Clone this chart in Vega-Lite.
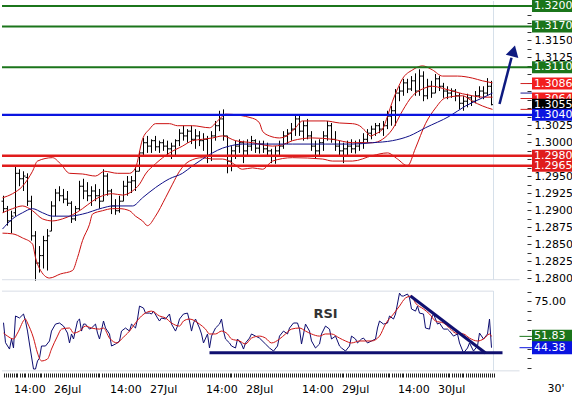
{
"$schema":"https://vega.github.io/schema/vega-lite/v6.json",
"background":"white",
"padding":0,
"spacing":11,
"bounds":"flush",
"config":{"view":{"stroke":null},"font":"DejaVu Sans","axis":{"labelFont":"DejaVu Sans","labelFontSize":11,"labelColor":"#000","grid":false,"domain":false,"tickColor":"#333","labelOverlap":false,"labelFlush":false,"labelBound":false,"zindex":0}},
"datasets":{
"bars":[
{"t":11,"o":1.2913,"h":1.2921,"l":1.2896,"c":1.2902},{"t":12,"o":1.2902,"h":1.2906,"l":1.2877,"c":1.2884},{"t":13,"o":1.2884,"h":1.2899,"l":1.2866,"c":1.2891},{"t":14,"o":1.2896,"h":1.2965,"l":1.2891,"c":1.2954},{"t":15,"o":1.2954,"h":1.296,"l":1.2935,"c":1.2946},{"t":16,"o":1.2946,"h":1.2957,"l":1.2928,"c":1.295},{"t":17,"o":1.2948,"h":1.2954,"l":1.2906,"c":1.2913},{"t":18,"o":1.2913,"h":1.2921,"l":1.2855,"c":1.2862},{"t":19,"o":1.2862,"h":1.2869,"l":1.2796,"c":1.2822},{"t":20,"o":1.2822,"h":1.2847,"l":1.2808,"c":1.2833},
{"t":21,"o":1.2833,"h":1.2862,"l":1.2814,"c":1.2855},{"t":22,"o":1.2855,"h":1.2872,"l":1.2811,"c":1.2862},{"t":23,"o":1.2869,"h":1.2913,"l":1.2869,"c":1.2906},{"t":24,"o":1.2906,"h":1.2931,"l":1.2891,"c":1.2925},{"t":25,"o":1.2925,"h":1.2935,"l":1.2913,"c":1.2921},{"t":26,"o":1.2921,"h":1.2931,"l":1.291,"c":1.2916},{"t":27,"o":1.2916,"h":1.2928,"l":1.2906,"c":1.291},{"t":28,"o":1.291,"h":1.2913,"l":1.2881,"c":1.2887},{"t":29,"o":1.2887,"h":1.2906,"l":1.2884,"c":1.2902},{"t":30,"o":1.2902,"h":1.2943,"l":1.2899,"c":1.2935},
{"t":31,"o":1.2935,"h":1.2946,"l":1.2916,"c":1.2928},{"t":32,"o":1.2928,"h":1.2941,"l":1.2913,"c":1.2921},{"t":33,"o":1.2921,"h":1.2935,"l":1.2906,"c":1.2928},{"t":34,"o":1.2928,"h":1.2938,"l":1.2913,"c":1.2921},{"t":35,"o":1.2921,"h":1.2931,"l":1.2902,"c":1.2913},{"t":36,"o":1.2913,"h":1.296,"l":1.2913,"c":1.295},{"t":37,"o":1.295,"h":1.2954,"l":1.2921,"c":1.2928},{"t":38,"o":1.2928,"h":1.2931,"l":1.2894,"c":1.2906},{"t":39,"o":1.2906,"h":1.2916,"l":1.2893,"c":1.2899},{"t":40,"o":1.2899,"h":1.2921,"l":1.2896,"c":1.2913},
{"t":41,"o":1.2913,"h":1.2943,"l":1.2913,"c":1.2935},{"t":42,"o":1.2935,"h":1.295,"l":1.2921,"c":1.2941},{"t":43,"o":1.2941,"h":1.295,"l":1.2925,"c":1.2943},{"t":44,"o":1.2943,"h":1.2965,"l":1.2928,"c":1.2957},{"t":45,"o":1.2957,"h":1.2987,"l":1.2957,"c":1.2984},{"t":46,"o":1.2984,"h":1.3006,"l":1.298,"c":1.2999},{"t":47,"o":1.2999,"h":1.3009,"l":1.2984,"c":1.2994},{"t":48,"o":1.2994,"h":1.3004,"l":1.2984,"c":1.3002},{"t":49,"o":1.3002,"h":1.3009,"l":1.2987,"c":1.2993},{"t":50,"o":1.2993,"h":1.3002,"l":1.2984,"c":1.2999},
{"t":51,"o":1.2999,"h":1.3004,"l":1.2987,"c":1.2994},{"t":52,"o":1.2994,"h":1.3002,"l":1.298,"c":1.299},{"t":53,"o":1.299,"h":1.2999,"l":1.2975,"c":1.2994},{"t":54,"o":1.2994,"h":1.3004,"l":1.298,"c":1.3002},{"t":55,"o":1.3002,"h":1.3019,"l":1.2994,"c":1.3013},{"t":56,"o":1.3013,"h":1.3024,"l":1.3002,"c":1.3009},{"t":57,"o":1.3009,"h":1.3019,"l":1.2999,"c":1.3016},{"t":58,"o":1.3016,"h":1.3024,"l":1.2997,"c":1.3004},{"t":59,"o":1.3004,"h":1.3019,"l":1.299,"c":1.3009},{"t":60,"o":1.3009,"h":1.3016,"l":1.2994,"c":1.3002},
{"t":61,"o":1.3002,"h":1.3013,"l":1.2987,"c":1.3004},{"t":62,"o":1.3004,"h":1.3009,"l":1.2969,"c":1.298},{"t":63,"o":1.298,"h":1.3016,"l":1.2972,"c":1.3009},{"t":64,"o":1.3009,"h":1.3031,"l":1.3002,"c":1.3024},{"t":65,"o":1.3024,"h":1.3046,"l":1.3016,"c":1.3034},{"t":66,"o":1.3034,"h":1.3048,"l":1.3002,"c":1.3009},{"t":67,"o":1.3009,"h":1.3009,"l":1.2954,"c":1.2972},{"t":68,"o":1.2972,"h":1.2994,"l":1.2957,"c":1.2987},{"t":69,"o":1.2987,"h":1.3002,"l":1.2975,"c":1.2994},{"t":70,"o":1.2994,"h":1.3004,"l":1.2984,"c":1.2999},
{"t":71,"o":1.2999,"h":1.3002,"l":1.2969,"c":1.2987},{"t":72,"o":1.2987,"h":1.3004,"l":1.298,"c":1.2994},{"t":73,"o":1.2994,"h":1.3009,"l":1.2987,"c":1.3002},{"t":74,"o":1.3002,"h":1.3004,"l":1.2984,"c":1.2991},{"t":75,"o":1.2991,"h":1.3002,"l":1.2983,"c":1.2997},{"t":76,"o":1.2997,"h":1.3002,"l":1.2984,"c":1.299},{"t":77,"o":1.299,"h":1.2999,"l":1.298,"c":1.2987},{"t":78,"o":1.2987,"h":1.299,"l":1.2969,"c":1.298},{"t":79,"o":1.298,"h":1.2994,"l":1.2968,"c":1.2987},{"t":80,"o":1.2987,"h":1.3002,"l":1.298,"c":1.2994},
{"t":81,"o":1.2994,"h":1.3016,"l":1.299,"c":1.3009},{"t":82,"o":1.3009,"h":1.3019,"l":1.2997,"c":1.3013},{"t":83,"o":1.3013,"h":1.3028,"l":1.3002,"c":1.3019},{"t":84,"o":1.3019,"h":1.3041,"l":1.3009,"c":1.3034},{"t":85,"o":1.3034,"h":1.3041,"l":1.3009,"c":1.3016},{"t":86,"o":1.3016,"h":1.3031,"l":1.3002,"c":1.3024},{"t":87,"o":1.3024,"h":1.3034,"l":1.3004,"c":1.3009},{"t":88,"o":1.3009,"h":1.3016,"l":1.2987,"c":1.2994},{"t":89,"o":1.2994,"h":1.3002,"l":1.2975,"c":1.2987},{"t":90,"o":1.2987,"h":1.3004,"l":1.298,"c":1.2999},
{"t":91,"o":1.2999,"h":1.3016,"l":1.2987,"c":1.3009},{"t":92,"o":1.3009,"h":1.3031,"l":1.3002,"c":1.3024},{"t":93,"o":1.3024,"h":1.3028,"l":1.2999,"c":1.3004},{"t":94,"o":1.3004,"h":1.3016,"l":1.2987,"c":1.2994},{"t":95,"o":1.2994,"h":1.3002,"l":1.298,"c":1.2987},{"t":96,"o":1.2987,"h":1.2999,"l":1.2969,"c":1.299},{"t":97,"o":1.299,"h":1.3002,"l":1.298,"c":1.2994},{"t":98,"o":1.2994,"h":1.3004,"l":1.2984,"c":1.299},{"t":99,"o":1.299,"h":1.3002,"l":1.2983,"c":1.2994},{"t":100,"o":1.2994,"h":1.3004,"l":1.2987,"c":1.2999},
{"t":101,"o":1.2999,"h":1.3013,"l":1.299,"c":1.3004},{"t":102,"o":1.3004,"h":1.3019,"l":1.2999,"c":1.3013},{"t":103,"o":1.3013,"h":1.3024,"l":1.3004,"c":1.3019},{"t":104,"o":1.3019,"h":1.3028,"l":1.3009,"c":1.3024},{"t":105,"o":1.3024,"h":1.3028,"l":1.3013,"c":1.3019},{"t":106,"o":1.3019,"h":1.3031,"l":1.3009,"c":1.3024},{"t":107,"o":1.3024,"h":1.3046,"l":1.3019,"c":1.3038},{"t":108,"o":1.3038,"h":1.3053,"l":1.3024,"c":1.3046},{"t":109,"o":1.3046,"h":1.3078,"l":1.3024,"c":1.3072},{"t":110,"o":1.3072,"h":1.3082,"l":1.306,"c":1.3075},
{"t":111,"o":1.3075,"h":1.3093,"l":1.3068,"c":1.3087},{"t":112,"o":1.3087,"h":1.3093,"l":1.3072,"c":1.3078},{"t":113,"o":1.3078,"h":1.3097,"l":1.3075,"c":1.309},{"t":114,"o":1.309,"h":1.3101,"l":1.3068,"c":1.3075},{"t":115,"o":1.3075,"h":1.3107,"l":1.3068,"c":1.3097},{"t":116,"o":1.3097,"h":1.3104,"l":1.306,"c":1.3068},{"t":117,"o":1.3068,"h":1.3093,"l":1.3063,"c":1.3082},{"t":118,"o":1.3082,"h":1.309,"l":1.3065,"c":1.3072},{"t":119,"o":1.3072,"h":1.31,"l":1.3072,"c":1.3093},{"t":120,"o":1.3093,"h":1.3097,"l":1.3075,"c":1.3082},
{"t":121,"o":1.3082,"h":1.3087,"l":1.3065,"c":1.3075},{"t":122,"o":1.3075,"h":1.3082,"l":1.3063,"c":1.3072},{"t":123,"o":1.3072,"h":1.3079,"l":1.3065,"c":1.3075},{"t":124,"o":1.3075,"h":1.3078,"l":1.306,"c":1.3068},{"t":125,"o":1.3068,"h":1.3072,"l":1.3048,"c":1.3057},{"t":126,"o":1.3057,"h":1.3068,"l":1.3046,"c":1.306},{"t":127,"o":1.306,"h":1.3071,"l":1.3051,"c":1.3065},{"t":128,"o":1.3065,"h":1.3068,"l":1.3053,"c":1.306},{"t":129,"o":1.306,"h":1.3075,"l":1.3057,"c":1.3068},{"t":130,"o":1.3068,"h":1.3082,"l":1.3065,"c":1.3075},
{"t":131,"o":1.3075,"h":1.3082,"l":1.3063,"c":1.3072},{"t":132,"o":1.3072,"h":1.3094,"l":1.3068,"c":1.3082},{"t":133,"o":1.3082,"h":1.309,"l":1.3054,"c":1.3055}
],
"bands":[
{"b":"up","t":10.75,"v":1.2918},{"b":"up","t":13.25,"v":1.2924},{"b":"up","t":15.75,"v":1.2935},{"b":"up","t":18.25,"v":1.2957},{"b":"up","t":19.5,"v":1.2972},{"b":"up","t":23.25,"v":1.2977},{"b":"up","t":25.25,"v":1.2968},{"b":"up","t":27.5,"v":1.2954},{"b":"up","t":30.75,"v":1.2953},{"b":"up","t":34,"v":1.295},{"b":"up","t":36.25,"v":1.2957},{"b":"up","t":39.5,"v":1.2954},{"b":"up","t":42.5,"v":1.2954},{"b":"up","t":44,"v":1.2962},{"b":"up","t":45.75,"v":1.3004},{"b":"up","t":47.5,"v":1.3019},{"b":"up","t":49,"v":1.3027},{"b":"up","t":52.5,"v":1.3027},{"b":"up","t":54.5,"v":1.3024},{"b":"up","t":58.25,"v":1.3024},{"b":"up","t":62.5,"v":1.3021},{"b":"up","t":64.5,"v":1.3031},{"b":"up","t":65.75,"v":1.3038},{"b":"up","t":66.5,"v":1.3041},{"b":"up","t":73.25,"v":1.3035},{"b":"up","t":75,"v":1.3028},{"b":"up","t":75.75,"v":1.3016},{"b":"up","t":77.5,"v":1.3009},{"b":"up","t":80,"v":1.3006},{"b":"up","t":82.5,"v":1.3012},{"b":"up","t":84,"v":1.3021},{"b":"up","t":85.75,"v":1.3031},{"b":"up","t":91.5,"v":1.3031},{"b":"up","t":95,"v":1.3028},{"b":"up","t":98.25,"v":1.3027},{"b":"up","t":100,"v":1.3024},{"b":"up","t":101.5,"v":1.3016},{"b":"up","t":102.75,"v":1.3009},{"b":"up","t":104,"v":1.3012},{"b":"up","t":105.75,"v":1.3019},{"b":"up","t":107,"v":1.3038},{"b":"up","t":108.25,"v":1.306},{"b":"up","t":109.5,"v":1.3078},{"b":"up","t":110.75,"v":1.3093},{"b":"up","t":113.25,"v":1.3106},{"b":"up","t":115.75,"v":1.3112},{"b":"up","t":118.25,"v":1.3106},{"b":"up","t":120.75,"v":1.3097},{"b":"up","t":124.5,"v":1.3097},{"b":"up","t":128.25,"v":1.3094},{"b":"up","t":130.75,"v":1.309},{"b":"up","t":133.25,"v":1.3087},
{"b":"mid","t":10.75,"v":1.2896},{"b":"mid","t":13.25,"v":1.2902},{"b":"mid","t":15.75,"v":1.2906},{"b":"mid","t":18.25,"v":1.2899},{"b":"mid","t":20.75,"v":1.2887},{"b":"mid","t":23.25,"v":1.2884},{"b":"mid","t":25.75,"v":1.2887},{"b":"mid","t":28.25,"v":1.2893},{"b":"mid","t":30.75,"v":1.2902},{"b":"mid","t":33.25,"v":1.2913},{"b":"mid","t":35.75,"v":1.2921},{"b":"mid","t":38.25,"v":1.2924},{"b":"mid","t":40.75,"v":1.2922},{"b":"mid","t":43.25,"v":1.2928},{"b":"mid","t":45,"v":1.2938},{"b":"mid","t":46.5,"v":1.2953},{"b":"mid","t":49,"v":1.2968},{"b":"mid","t":52.5,"v":1.2984},{"b":"mid","t":55.75,"v":1.2994},{"b":"mid","t":58.25,"v":1.3002},{"b":"mid","t":60.75,"v":1.3004},{"b":"mid","t":63.25,"v":1.3006},{"b":"mid","t":65.75,"v":1.3009},{"b":"mid","t":69,"v":1.3002},{"b":"mid","t":73.25,"v":1.2999},{"b":"mid","t":78.25,"v":1.2994},{"b":"mid","t":80.75,"v":1.2996},{"b":"mid","t":83.25,"v":1.3002},{"b":"mid","t":88.25,"v":1.3006},{"b":"mid","t":93.25,"v":1.3004},{"b":"mid","t":98.25,"v":1.2999},{"b":"mid","t":103.25,"v":1.2999},{"b":"mid","t":105.75,"v":1.3004},{"b":"mid","t":108.25,"v":1.3019},{"b":"mid","t":110.75,"v":1.3046},{"b":"mid","t":113.25,"v":1.3068},{"b":"mid","t":115.75,"v":1.3078},{"b":"mid","t":118.25,"v":1.3082},{"b":"mid","t":120.75,"v":1.3079},{"b":"mid","t":123.25,"v":1.3075},{"b":"mid","t":125.75,"v":1.3071},{"b":"mid","t":128.25,"v":1.3068},{"b":"mid","t":130.75,"v":1.3066},{"b":"mid","t":133.25,"v":1.3066},
{"b":"lo","t":10.75,"v":1.2866},{"b":"lo","t":13.25,"v":1.2865},{"b":"lo","t":15.75,"v":1.2859},{"b":"lo","t":18.25,"v":1.285},{"b":"lo","t":19,"v":1.283},{"b":"lo","t":20,"v":1.2814},{"b":"lo","t":22.5,"v":1.28},{"b":"lo","t":25.25,"v":1.2806},{"b":"lo","t":28.25,"v":1.2811},{"b":"lo","t":29.5,"v":1.283},{"b":"lo","t":30.75,"v":1.2855},{"b":"lo","t":32.5,"v":1.2879},{"b":"lo","t":33.25,"v":1.2894},{"b":"lo","t":35.75,"v":1.2899},{"b":"lo","t":38.25,"v":1.2902},{"b":"lo","t":40,"v":1.2902},{"b":"lo","t":42.5,"v":1.2899},{"b":"lo","t":44,"v":1.2891},{"b":"lo","t":45.75,"v":1.2884},{"b":"lo","t":47,"v":1.2877},{"b":"lo","t":49,"v":1.2891},{"b":"lo","t":51.5,"v":1.2918},{"b":"lo","t":53.25,"v":1.2938},{"b":"lo","t":55,"v":1.2957},{"b":"lo","t":57.5,"v":1.2972},{"b":"lo","t":60.75,"v":1.2977},{"b":"lo","t":63.25,"v":1.2975},{"b":"lo","t":65.75,"v":1.2975},{"b":"lo","t":68.25,"v":1.2969},{"b":"lo","t":70.75,"v":1.296},{"b":"lo","t":73.25,"v":1.2962},{"b":"lo","t":75.75,"v":1.296},{"b":"lo","t":78.25,"v":1.2972},{"b":"lo","t":83.25,"v":1.2977},{"b":"lo","t":90.75,"v":1.2975},{"b":"lo","t":93.25,"v":1.2972},{"b":"lo","t":98.25,"v":1.2972},{"b":"lo","t":103.25,"v":1.298},{"b":"lo","t":107,"v":1.2984},{"b":"lo","t":109.5,"v":1.2975},{"b":"lo","t":112,"v":1.2965},{"b":"lo","t":114,"v":1.2991},{"b":"lo","t":116.5,"v":1.3027},{"b":"lo","t":119,"v":1.305},{"b":"lo","t":121.5,"v":1.3065},{"b":"lo","t":125.75,"v":1.3068},{"b":"lo","t":128.25,"v":1.306},{"b":"lo","t":130.75,"v":1.3053},{"b":"lo","t":133.25,"v":1.3048},
{"b":"ma","t":10.75,"v":1.2872},{"b":"ma","t":13.25,"v":1.2887},{"b":"ma","t":15.75,"v":1.2896},{"b":"ma","t":18.25,"v":1.2902},{"b":"ma","t":20.75,"v":1.2896},{"b":"ma","t":23.25,"v":1.2891},{"b":"ma","t":27.5,"v":1.2891},{"b":"ma","t":30.75,"v":1.2894},{"b":"ma","t":35.75,"v":1.2903},{"b":"ma","t":38.25,"v":1.2906},{"b":"ma","t":43.25,"v":1.2906},{"b":"ma","t":45.75,"v":1.2918},{"b":"ma","t":49,"v":1.2933},{"b":"ma","t":52.5,"v":1.2946},{"b":"ma","t":55.75,"v":1.2954},{"b":"ma","t":58.25,"v":1.2965},{"b":"ma","t":60.75,"v":1.2975},{"b":"ma","t":63.25,"v":1.2984},{"b":"ma","t":65.75,"v":1.2991},{"b":"ma","t":67.5,"v":1.2994},{"b":"ma","t":70.75,"v":1.2997},{"b":"ma","t":83.25,"v":1.2997},{"b":"ma","t":91.5,"v":1.2997},{"b":"ma","t":98.25,"v":1.2997},{"b":"ma","t":103.25,"v":1.2999},{"b":"ma","t":108.25,"v":1.3002},{"b":"ma","t":112.5,"v":1.3009},{"b":"ma","t":116.5,"v":1.3021},{"b":"ma","t":122.5,"v":1.3038},{"b":"ma","t":126.5,"v":1.3053},{"b":"ma","t":130.75,"v":1.3065},{"b":"ma","t":133.25,"v":1.3072}
],
"rsi":[
{"t":11,"v":60.8},{"t":11.5,"v":47.7},{"t":12.5,"v":43.5},{"t":13,"v":50.1},{"t":13.5,"v":44.2},{"t":14,"v":65.2},{"t":15,"v":63.9},{"t":16,"v":66.5},{"t":16.5,"v":61.9},{"t":17,"v":55.3},{"t":17.5,"v":46.8},{"t":18.5,"v":30.4},{"t":19,"v":30.4},{"t":19.5,"v":35.7},{"t":20,"v":37.6},{"t":20.5,"v":45.5},{"t":21.5,"v":45.5},{"t":22.5,"v":48.8},{"t":23,"v":55.3},{"t":24,"v":59.9},{"t":25,"v":60.6},{"t":26,"v":58.6},{"t":27,"v":54.0},{"t":27.5,"v":47.5},{"t":28,"v":53.4},{"t":28.5,"v":50.1},{"t":29.5,"v":61.9},{"t":30,"v":63.2},{"t":30.5,"v":55.3},{"t":31,"v":59.9},{"t":31.5,"v":59.9},{"t":32.5,"v":56.6},{"t":33,"v":57.3},{"t":34,"v":59.9},{"t":34.5,"v":54.0},{"t":35,"v":50.1},{"t":36,"v":61.9},{"t":36.5,"v":57.3},{"t":37.5,"v":53.4},{"t":38,"v":45.5},{"t":39,"v":46.8},{"t":40,"v":48.8},{"t":40.5,"v":55.3},{"t":41.5,"v":57.3},{"t":42.5,"v":55.3},{"t":43,"v":59.9},{"t":44,"v":57.3},{"t":44.5,"v":63.2},{"t":45,"v":71.7},{"t":46,"v":70.4},{"t":46.5,"v":67.1},{"t":47.5,"v":67.1},{"t":48,"v":66.5},{"t":48.5,"v":68.4},{"t":49.5,"v":63.9},{"t":50,"v":61.9},{"t":50.5,"v":63.9},{"t":51.5,"v":63.2},{"t":52.5,"v":66.5},{"t":53,"v":59.9},{"t":54,"v":55.3},{"t":54.5,"v":58.6},{"t":55,"v":63.2},{"t":56,"v":66.5},{"t":57,"v":67.1},{"t":57.5,"v":61.9},{"t":58,"v":55.3},{"t":58.5,"v":60.6},{"t":59,"v":63.2},{"t":60,"v":57.3},{"t":60.5,"v":53.4},{"t":61,"v":47.5},{"t":62,"v":53.4},{"t":62.5,"v":44.2},{"t":63,"v":52.0},{"t":64,"v":57.3},{"t":65,"v":59.9},{"t":65.5,"v":63.2},{"t":66,"v":55.3},{"t":66.5,"v":50.1},{"t":67.5,"v":47.5},{"t":68,"v":45.5},{"t":69,"v":44.2},{"t":69.5,"v":50.1},{"t":70.5,"v":46.8},{"t":71,"v":43.5},{"t":71.5,"v":47.5},{"t":72.5,"v":50.7},{"t":73,"v":53.4},{"t":74,"v":52.0},{"t":75,"v":50.7},{"t":76.5,"v":46.8},{"t":77.5,"v":44.2},{"t":78.5,"v":42.2},{"t":79.5,"v":45.5},{"t":80,"v":52.0},{"t":81,"v":55.3},{"t":82,"v":53.4},{"t":82.5,"v":57.3},{"t":83.5,"v":60.6},{"t":84.5,"v":60.6},{"t":85,"v":56.6},{"t":85.5,"v":46.8},{"t":86.5,"v":59.9},{"t":87.5,"v":55.3},{"t":88,"v":48.8},{"t":89,"v":44.2},{"t":90,"v":46.8},{"t":90.5,"v":53.4},{"t":91.5,"v":58.6},{"t":92.5,"v":56.6},{"t":93,"v":50.1},{"t":94,"v":52.0},{"t":95,"v":45.5},{"t":95.5,"v":44.2},{"t":96.5,"v":42.2},{"t":97.5,"v":45.5},{"t":98,"v":52.0},{"t":99,"v":50.1},{"t":99.5,"v":47.5},{"t":100.5,"v":50.1},{"t":101,"v":50.7},{"t":102,"v":47.5},{"t":103,"v":48.8},{"t":104,"v":50.1},{"t":104.5,"v":57.3},{"t":105,"v":61.9},{"t":106,"v":59.9},{"t":107,"v":60.6},{"t":107.5,"v":65.2},{"t":108.5,"v":63.2},{"t":109,"v":66.5},{"t":110,"v":80.2},{"t":110.5,"v":78.3},{"t":111,"v":78.3},{"t":112,"v":79.6},{"t":112.5,"v":77.0},{"t":113,"v":69.8},{"t":114,"v":68.4},{"t":114.5,"v":71.7},{"t":115,"v":67.1},{"t":116,"v":66.5},{"t":116.5,"v":57.3},{"t":117.5,"v":56.6},{"t":118,"v":63.9},{"t":118.5,"v":66.5},{"t":119.5,"v":59.9},{"t":120,"v":60.6},{"t":121,"v":56.6},{"t":122,"v":56.6},{"t":122.5,"v":55.3},{"t":123.5,"v":52.0},{"t":124.5,"v":53.4},{"t":125,"v":47.5},{"t":126,"v":40.9},{"t":127,"v":44.2},{"t":127.5,"v":47.5},{"t":128.5,"v":42.2},{"t":129.5,"v":45.5},{"t":130,"v":54.0},{"t":131,"v":50.1},{"t":132,"v":53.4},{"t":132.5,"v":63.2},{"t":133,"v":44.4}
],
"sig":[
{"t":11,"v":54.0},{"t":12,"v":52.0},{"t":13.5,"v":50.1},{"t":14.5,"v":54.0},{"t":16.5,"v":63.2},{"t":17,"v":60.6},{"t":18.5,"v":50.7},{"t":19.5,"v":40.9},{"t":20.5,"v":35.7},{"t":22,"v":37.0},{"t":23,"v":43.5},{"t":24.5,"v":52.0},{"t":25.5,"v":56.6},{"t":27.5,"v":57.3},{"t":28.5,"v":54.0},{"t":30,"v":55.3},{"t":31.5,"v":58.6},{"t":33,"v":57.3},{"t":35,"v":56.6},{"t":36,"v":57.3},{"t":37.5,"v":50.7},{"t":39.5,"v":47.5},{"t":40.5,"v":50.1},{"t":42.5,"v":55.3},{"t":44,"v":60.6},{"t":45.5,"v":65.2},{"t":48,"v":68.4},{"t":50,"v":65.2},{"t":51.5,"v":63.9},{"t":53,"v":60.6},{"t":55,"v":58.6},{"t":56,"v":61.9},{"t":57.5,"v":63.2},{"t":60,"v":59.9},{"t":61.5,"v":56.6},{"t":62.5,"v":53.4},{"t":64,"v":53.4},{"t":65.5,"v":55.3},{"t":67,"v":53.4},{"t":68,"v":50.1},{"t":70,"v":48.8},{"t":71.5,"v":46.8},{"t":73,"v":50.7},{"t":75,"v":52.0},{"t":76.5,"v":50.7},{"t":78,"v":47.5},{"t":80,"v":50.1},{"t":81.5,"v":53.4},{"t":83,"v":56.6},{"t":85,"v":57.3},{"t":86.5,"v":55.3},{"t":88,"v":53.4},{"t":90,"v":52.0},{"t":91.5,"v":53.4},{"t":93,"v":53.4},{"t":95,"v":50.7},{"t":96.5,"v":48.8},{"t":98,"v":47.5},{"t":100,"v":48.8},{"t":101.5,"v":48.8},{"t":103,"v":48.8},{"t":105,"v":52.0},{"t":106.5,"v":59.9},{"t":108.5,"v":66.5},{"t":110,"v":71.7},{"t":111.5,"v":77.0},{"t":113,"v":78.3},{"t":114,"v":73.7},{"t":116,"v":69.8},{"t":117.5,"v":66.5},{"t":119,"v":61.9},{"t":121,"v":60.6},{"t":122.5,"v":57.3},{"t":124,"v":54.0},{"t":126,"v":53.4},{"t":127.5,"v":50.7},{"t":129.5,"v":48.8},{"t":131,"v":50.1},{"t":132.5,"v":53.4},{"t":133,"v":51.8}
],
"tags":[
{"v":1.3086,"lab":"1.3086","k":"ind","g":1},{"v":1.3064,"lab":"1.3064","k":"ind","g":1},{"v":1.3055,"lab":"1.3055","k":"last","g":2},{"v":1.32,"lab":"1.3200","k":"res","g":3},{"v":1.317,"lab":"1.3170","k":"res","g":3},{"v":1.311,"lab":"1.3110","k":"res","g":3},{"v":1.304,"lab":"1.3040","k":"piv","g":3},{"v":1.298,"lab":"1.2980","k":"sup","g":3},{"v":1.2965,"lab":"1.2965","k":"sup","g":3}
],
"shorts":[{"v":1.3086,"k":"bb"},{"v":1.3072,"k":"ma"},{"v":1.3064,"k":"bb"},{"v":1.3048,"k":"bb"}],
"rtags":[{"v":51.83,"lab":"51.83","k":"sig"},{"v":44.38,"lab":"44.38","k":"rsi"}]
},
"vconcat":[
{"width":572,"height":279,
"resolve":{"axis":{"x":"independent","y":"independent"}},
"layer":[
{"data":{"name":"bars"},"mark":{"type":"rule","color":"#000","strokeWidth":1},"encoding":{"x":{"field":"t","type":"quantitative","scale":{"domain":[10.625,153.625],"nice":false,"zero":false},"axis":null},"y":{"field":"h","type":"quantitative","scale":{"domain":[1.27971,1.32074],"nice":false,"zero":false},"axis":{"orient":"right","offset":-47,"title":null,"zindex":0,"values":[1.28,1.28125,1.2825,1.28375,1.285,1.28625,1.2875,1.28875,1.29,1.29125,1.2925,1.29375,1.295,1.29625,1.2975,1.29875,1.3,1.30125,1.3025,1.30375,1.305,1.30625,1.3075,1.30875,1.31,1.31125,1.3125,1.31375,1.315,1.31625,1.3175,1.31875,1.32],"labelExpr":"(round(datum.value*10000) % 25 == 0 && indexof([13200,13175,13100,13075,13050,12975], round(datum.value*10000)) < 0) ? format(datum.value, '.4f') : ''","tickSize":4,"labelPadding":3}},"y2":{"field":"l"}}},
{"data":{"name":"bars"},"mark":{"type":"tick","orient":"horizontal","color":"#000","size":2,"thickness":1,"xOffset":-1,"opacity":1},"encoding":{"x":{"field":"t","type":"quantitative","axis":null},"y":{"field":"o","type":"quantitative","axis":null}}},
{"data":{"name":"bars"},"mark":{"type":"tick","orient":"horizontal","color":"#000","size":2,"thickness":1,"xOffset":1,"opacity":1},"encoding":{"x":{"field":"t","type":"quantitative","axis":null},"y":{"field":"c","type":"quantitative","axis":null}}},
{"data":{"values":[{}]},"mark":{"type":"rule","color":"#d8dde6","strokeWidth":1},"encoding":{"x":{"datum":10.625,"type":"quantitative","axis":null},"x2":{"datum":140},"y":{"datum":1.27975,"type":"quantitative","axis":null}}},
{"data":{"values":[{}]},"mark":{"type":"rule","color":"#d6e0ea","strokeWidth":1},"encoding":{"x":{"datum":133.5,"type":"quantitative","axis":null},"y":{"datum":1.27971,"type":"quantitative","axis":null},"y2":{"datum":1.32074}}},
{"data":{"name":"bands"},"transform":[{"filter":"datum.b != 'ma'"}],"mark":{"type":"line","color":"#cc1111","strokeWidth":1,"interpolate":"monotone"},"encoding":{"x":{"field":"t","type":"quantitative","axis":null},"y":{"field":"v","type":"quantitative","axis":null},"detail":{"field":"b"}}},
{"data":{"name":"bands"},"transform":[{"filter":"datum.b == 'ma'"}],"mark":{"type":"line","color":"#101088","strokeWidth":1,"interpolate":"monotone"},"encoding":{"x":{"field":"t","type":"quantitative","axis":null},"y":{"field":"v","type":"quantitative","axis":null}}},
{"data":{"name":"tags"},"transform":[{"filter":"datum.g == 3"}],"mark":{"type":"rule"},"encoding":{"x":{"datum":10.625,"type":"quantitative","axis":null},"x2":{"datum":143.125},"y":{"field":"v","type":"quantitative","axis":null},"color":{"field":"k","type":"nominal","scale":{"domain":["res","piv","sup","ind","last","bb","ma"],"range":["#1b751b","#0a14e0","#e01c1c","#f21e1e","#000000","#d02020","#1a1a90"]},"legend":null},"strokeWidth":{"field":"k","type":"nominal","scale":{"domain":["res","piv","sup"],"range":[2,2.5,3]},"legend":null}}},
{"data":{"name":"shorts"},"mark":{"type":"rule","strokeWidth":1},"encoding":{"x":{"datum":140.25,"type":"quantitative","axis":null},"x2":{"datum":143.125},"y":{"field":"v","type":"quantitative","axis":null},"color":{"field":"k","type":"nominal","legend":null}}},
{"data":{"values":[{}]},"mark":{"type":"rule","color":"#0e1a80","strokeWidth":2.5},"encoding":{"x":{"datum":135.0,"type":"quantitative","axis":null},"y":{"datum":1.3056,"type":"quantitative","axis":null},"x2":{"datum":138.0},"y2":{"datum":1.3124}}},
{"data":{"values":[{}]},"mark":{"type":"point","shape":"triangle-up","filled":true,"color":"#0e1a80","opacity":1,"size":170,"angle":15},"encoding":{"x":{"datum":138.5,"type":"quantitative","axis":null},"y":{"datum":1.3134,"type":"quantitative","axis":null}}},
{"data":{"name":"tags"},"transform":[{"filter":"datum.g == 1"}],"layer":[
{"mark":{"type":"tick","orient":"horizontal","size":42,"thickness":12,"opacity":1},"encoding":{"x":{"datum":148.375,"type":"quantitative","axis":null},"y":{"field":"v","type":"quantitative","axis":null},"color":{"field":"k","type":"nominal","legend":null}}},
{"mark":{"type":"text","align":"left","baseline":"middle","color":"#ffffff","fontSize":11,"font":"DejaVu Sans"},"encoding":{"x":{"datum":143.625,"type":"quantitative","axis":null},"y":{"field":"v","type":"quantitative","axis":null},"text":{"field":"lab"}}}]},
{"data":{"name":"tags"},"transform":[{"filter":"datum.g == 2"}],"layer":[
{"mark":{"type":"tick","orient":"horizontal","size":42,"thickness":12,"opacity":1},"encoding":{"x":{"datum":148.375,"type":"quantitative","axis":null},"y":{"field":"v","type":"quantitative","axis":null},"color":{"field":"k","type":"nominal","legend":null}}},
{"mark":{"type":"text","align":"left","baseline":"middle","color":"#ffffff","fontSize":11,"font":"DejaVu Sans"},"encoding":{"x":{"datum":143.625,"type":"quantitative","axis":null},"y":{"field":"v","type":"quantitative","axis":null},"text":{"field":"lab"}}}]},
{"data":{"name":"tags"},"transform":[{"filter":"datum.g == 3"}],"layer":[
{"mark":{"type":"tick","orient":"horizontal","size":42,"thickness":12,"opacity":1},"encoding":{"x":{"datum":148.375,"type":"quantitative","axis":null},"y":{"field":"v","type":"quantitative","axis":null},"color":{"field":"k","type":"nominal","legend":null}}},
{"mark":{"type":"text","align":"left","baseline":"middle","color":"#ffffff","fontSize":11,"font":"DejaVu Sans"},"encoding":{"x":{"datum":143.625,"type":"quantitative","axis":null},"y":{"field":"v","type":"quantitative","axis":null},"text":{"field":"lab"}}}]}
]},
{"width":572,"height":80,
"resolve":{"axis":{"x":"independent","y":"independent"}},
"layer":[
{"data":{"name":"rsi"},"mark":{"type":"line","color":"#0d0d70","strokeWidth":1},"encoding":{"x":{"field":"t","type":"quantitative","scale":{"domain":[10.625,153.625],"nice":false,"zero":false},"axis":{"orient":"bottom","title":null,"zindex":0,"values":[11,11.5,12,12.5,13,13.5,14,14.5,15,15.5,16,16.5,17,17.5,18,18.5,19,19.5,20,20.5,21,21.5,22,22.5,23,23.5,24,24.5,25,25.5,26,26.5,27,27.5,28,28.5,29,29.5,30,30.5,31,31.5,32,32.5,33,33.5,34,34.5,35,35.5,36,36.5,37,37.5,38,38.5,39,39.5,40,40.5,41,41.5,42,42.5,43,43.5,44,44.5,45,45.5,46,46.5,47,47.5,48,48.5,49,49.5,50,50.5,51,51.5,52,52.5,53,53.5,54,54.5,55,55.5,56,56.5,57,57.5,58,58.5,59,59.5,60,60.5,61,61.5,62,62.5,63,63.5,64,64.5,65,65.5,66,66.5,67,67.5,68,68.5,69,69.5,70,70.5,71,71.5,72,72.5,73,73.5,74,74.5,75,75.5,76,76.5,77,77.5,78,78.5,79,79.5,80,80.5,81,81.5,82,82.5,83,83.5,84,84.5,85,85.5,86,86.5,87,87.5,88,88.5,89,89.5,90,90.5,91,91.5,92,92.5,93,93.5,94,94.5,95,95.5,96,96.5,97,97.5,98,98.5,99,99.5,100,100.5,101,101.5,102,102.5,103,103.5,104,104.5,105,105.5,106,106.5,107,107.5,108,108.5,109,109.5,110,110.5,111,111.5,112,112.5,113,113.5,114,114.5,115,115.5,116,116.5,117,117.5,118,118.5,119,119.5,120,120.5,121,121.5,122,122.5,123,123.5,124,124.5,125,125.5,126,126.5,127,127.5,128,128.5,129,129.5,130,130.5,131,131.5,132,132.5,133,133.5],"tickSize":4,"tickWidth":1,"offset":2,"labelPadding":6,"labelAlign":"left","labelOffset":-2,"tickColor":"#222","labelExpr":"(datum.value == 14 || datum.value == 38 || datum.value == 62 || datum.value == 86 || datum.value == 110) ? '14:00' : datum.value == 24 ? '26Jul' : datum.value == 48 ? '27Jul' : datum.value == 72 ? '28Jul' : datum.value == 96 ? '29Jul' : datum.value == 120 ? '30Jul' : ''"}},"y":{"field":"v","type":"quantitative","scale":{"domain":[29.1,81.6],"nice":false,"zero":false},"axis":{"orient":"right","offset":-47,"title":null,"zindex":0,"values":[31.25,37.5,43.75,50,56.25,62.5,68.75,75,81.25],"labelExpr":"datum.value == 75 ? '75.00' : ''","tickSize":4,"labelPadding":3}}}},
{"data":{"name":"sig"},"mark":{"type":"line","color":"#d01515","strokeWidth":1,"interpolate":"monotone"},"encoding":{"x":{"field":"t","type":"quantitative","axis":null},"y":{"field":"v","type":"quantitative","axis":null}}},
{"data":{"values":[{}]},"mark":{"type":"rule","color":"#d8dde6","strokeWidth":1},"encoding":{"x":{"datum":10.625,"type":"quantitative","axis":null},"x2":{"datum":133.5},"y":{"datum":81.5,"type":"quantitative","axis":null}}},
{"data":{"values":[{}]},"mark":{"type":"rule","color":"#d8dde6","strokeWidth":1},"encoding":{"x":{"datum":10.625,"type":"quantitative","axis":null},"x2":{"datum":140},"y":{"datum":29.2,"type":"quantitative","axis":null}}},
{"data":{"values":[{}]},"mark":{"type":"rule","color":"#d6e0ea","strokeWidth":1},"encoding":{"x":{"datum":133.5,"type":"quantitative","axis":null},"y":{"datum":29.1,"type":"quantitative","axis":null},"y2":{"datum":81.6}}},
{"data":{"values":[{}]},"mark":{"type":"rule","color":"#101070","strokeWidth":3},"encoding":{"x":{"datum":62.5,"type":"quantitative","axis":null},"x2":{"datum":135.75},"y":{"datum":41.1,"type":"quantitative","axis":null}}},
{"data":{"values":[{}]},"mark":{"type":"rule","color":"#101070","strokeWidth":3},"encoding":{"x":{"datum":112.75,"type":"quantitative","axis":null},"y":{"datum":78.3,"type":"quantitative","axis":null},"x2":{"datum":131.5},"y2":{"datum":40.9}}},
{"data":{"values":[{"lab":"RSI"}]},"mark":{"type":"text","align":"center","baseline":"middle","color":"#333333","fontSize":13,"fontWeight":"bold","font":"DejaVu Sans"},"encoding":{"x":{"datum":91.5,"type":"quantitative","axis":null},"y":{"datum":66.5,"type":"quantitative","axis":null},"text":{"field":"lab"}}},
{"data":{"values":[{"lab":"30'"}]},"mark":{"type":"text","align":"left","baseline":"middle","color":"#000000","fontSize":11,"font":"DejaVu Sans"},"encoding":{"x":{"datum":147,"type":"quantitative","axis":null},"y":{"datum":17.0,"type":"quantitative","axis":null},"text":{"field":"lab"}}},
{"data":{"name":"rtags"},"mark":{"type":"rule","strokeWidth":1},"encoding":{"x":{"datum":140,"type":"quantitative","axis":null},"x2":{"datum":143.125},"y":{"field":"v","type":"quantitative","axis":null},"color":{"field":"k","type":"nominal","scale":{"domain":["sig","rsi"],"range":["#ee1c1c","#0d0d78"]},"legend":null}}},
{"data":{"name":"rtags"},"mark":{"type":"tick","orient":"horizontal","size":42,"thickness":13,"opacity":1},"encoding":{"x":{"datum":148.375,"type":"quantitative","axis":null},"y":{"field":"v","type":"quantitative","axis":null},"color":{"field":"k","type":"nominal","legend":null}}},
{"data":{"name":"rtags"},"mark":{"type":"text","align":"left","baseline":"middle","color":"#ffffff","fontSize":11,"font":"DejaVu Sans"},"encoding":{"x":{"datum":143.625,"type":"quantitative","axis":null},"y":{"field":"v","type":"quantitative","axis":null},"text":{"field":"lab"}}}
]}
]
}
